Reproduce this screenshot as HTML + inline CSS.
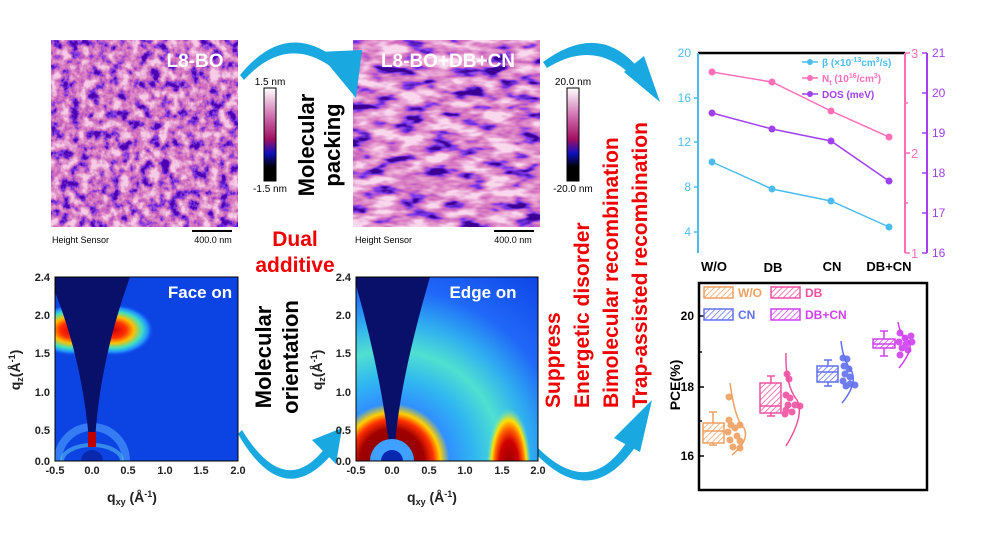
<!DOCTYPE html>
<html><head><meta charset="utf-8"><style>
html,body{margin:0;padding:0;background:#fff;}
svg{display:block;font-family:"Liberation Sans",Arial,sans-serif;}
</style></head><body>
<svg width="1008" height="542" viewBox="0 0 1008 542" xmlns="http://www.w3.org/2000/svg">
<defs>
<filter id="afm1" x="0" y="0" width="100%" height="100%">
<feTurbulence type="fractalNoise" baseFrequency="0.1" numOctaves="4" seed="3"/>
<feColorMatrix type="matrix" values="2.2 0 0 0 -0.6  2.2 0 0 0 -0.6  2.2 0 0 0 -0.6  0 0 0 0 1"/>
<feComponentTransfer>
<feFuncR type="table" tableValues="0.08 0.2 0.58 0.7 0.8 0.92"/>
<feFuncG type="table" tableValues="0 0.04 0.12 0.22 0.38 0.6"/>
<feFuncB type="table" tableValues="0.45 0.78 0.5 0.55 0.66 0.8"/>
</feComponentTransfer>
</filter>
<filter id="afm2" x="0" y="0" width="100%" height="100%">
<feTurbulence type="fractalNoise" baseFrequency="0.035 0.09" numOctaves="3" seed="7"/>
<feColorMatrix type="matrix" values="2.4 0 0 0 -0.65  2.4 0 0 0 -0.65  2.4 0 0 0 -0.65  0 0 0 0 1"/>
<feComponentTransfer>
<feFuncR type="table" tableValues="0.05 0.2 0.62 0.74 0.84 0.95"/>
<feFuncG type="table" tableValues="0 0.04 0.14 0.26 0.42 0.68"/>
<feFuncB type="table" tableValues="0.3 0.85 0.52 0.58 0.7 0.85"/>
</feComponentTransfer>
</filter>
<linearGradient id="cbar" x1="0" y1="1" x2="0" y2="0">
<stop offset="0" stop-color="#000"/><stop offset="0.15" stop-color="#000"/>
<stop offset="0.3" stop-color="#1010c0"/><stop offset="0.45" stop-color="#a01060"/>
<stop offset="0.7" stop-color="#d070b0"/><stop offset="1" stop-color="#fff"/>
</linearGradient>
<radialGradient id="lobe" cx="0.5" cy="0.5" r="0.5">
<stop offset="0" stop-color="#d00000"/><stop offset="0.3" stop-color="#ff3000"/>
<stop offset="0.5" stop-color="#ffc000"/><stop offset="0.7" stop-color="#40e0c0"/>
<stop offset="0.85" stop-color="#2090ff"/><stop offset="1" stop-color="#1040e8" stop-opacity="0"/>
</radialGradient>
<radialGradient id="ring" cx="392" cy="461" r="230" gradientUnits="userSpaceOnUse">
<stop offset="0" stop-color="#800000"/><stop offset="0.14" stop-color="#a00000"/>
<stop offset="0.18" stop-color="#ff3000"/><stop offset="0.21" stop-color="#ffd000"/>
<stop offset="0.25" stop-color="#3090ff"/><stop offset="0.36" stop-color="#30b8f0"/>
<stop offset="0.48" stop-color="#50e0d0"/><stop offset="0.6" stop-color="#30b0f0"/>
<stop offset="0.75" stop-color="#2068f8"/><stop offset="1" stop-color="#1048e8"/>
</radialGradient>
<radialGradient id="lobe2" cx="0.5" cy="0.6" r="0.5">
<stop offset="0" stop-color="#900000"/><stop offset="0.45" stop-color="#d00000"/>
<stop offset="0.65" stop-color="#ff6000"/><stop offset="0.8" stop-color="#ffe000"/>
<stop offset="1" stop-color="#80f0a0" stop-opacity="0"/>
</radialGradient>
<pattern id="h1" width="4" height="4" patternUnits="userSpaceOnUse" patternTransform="rotate(45)"><rect width="4" height="4" fill="#fff"/><line x1="0" y1="0" x2="0" y2="4" stroke="#f0a060" stroke-width="1.5"/></pattern>
<pattern id="h2" width="4" height="4" patternUnits="userSpaceOnUse" patternTransform="rotate(45)"><rect width="4" height="4" fill="#fff"/><line x1="0" y1="0" x2="0" y2="4" stroke="#f050a0" stroke-width="1.5"/></pattern>
<pattern id="h3" width="4" height="4" patternUnits="userSpaceOnUse" patternTransform="rotate(45)"><rect width="4" height="4" fill="#fff"/><line x1="0" y1="0" x2="0" y2="4" stroke="#6070f0" stroke-width="1.5"/></pattern>
<pattern id="h4" width="4" height="4" patternUnits="userSpaceOnUse" patternTransform="rotate(45)"><rect width="4" height="4" fill="#fff"/><line x1="0" y1="0" x2="0" y2="4" stroke="#d040f0" stroke-width="1.5"/></pattern>
<clipPath id="g1c"><rect x="55" y="277" width="183" height="184"/></clipPath>
<clipPath id="g2c"><rect x="356" y="277" width="182" height="184"/></clipPath>
</defs>

<rect x="51" y="40" width="187" height="187" filter="url(#afm1)"/>
<text x="195" y="67" fill="#fff" font-size="19" font-weight="bold" text-anchor="middle">L8-BO</text>
<text x="52" y="243" font-size="9">Height Sensor</text>
<line x1="192" y1="231" x2="232" y2="231" stroke="#000" stroke-width="2"/>
<text x="213" y="243" font-size="9" text-anchor="middle">400.0 nm</text>

<rect x="353" y="40" width="187" height="187" filter="url(#afm2)"/>
<text x="448" y="67" fill="#fff" font-size="19" font-weight="bold" text-anchor="middle">L8-BO+DB+CN</text>
<text x="355" y="243" font-size="9">Height Sensor</text>
<line x1="494" y1="231" x2="534" y2="231" stroke="#000" stroke-width="2"/>
<text x="513" y="243" font-size="9" text-anchor="middle">400.0 nm</text>

<rect x="264" y="88" width="12" height="93" fill="url(#cbar)" stroke="#000" stroke-width="1"/>
<text x="270" y="85" font-size="10" text-anchor="middle">1.5 nm</text>
<text x="270" y="192" font-size="10" text-anchor="middle">-1.5 nm</text>
<rect x="567" y="88" width="12" height="93" fill="url(#cbar)" stroke="#000" stroke-width="1"/>
<text x="573" y="85" font-size="10" text-anchor="middle">20.0 nm</text>
<text x="573" y="192" font-size="10" text-anchor="middle">-20.0 nm</text>

<g font-weight="bold" font-size="22">
<text transform="translate(314,145) rotate(-90)" text-anchor="middle">Molecular</text>
<text transform="translate(340,145) rotate(-90)" text-anchor="middle">packing</text>
<text transform="translate(271,357) rotate(-90)" text-anchor="middle">Molecular</text>
<text transform="translate(298,357) rotate(-90)" text-anchor="middle">orientation</text>
</g>
<g font-weight="bold" font-size="21" fill="#f00000">
<text x="295" y="246" text-anchor="middle">Dual</text>
<text x="295" y="272" text-anchor="middle">additive</text>
<text transform="translate(560,408) rotate(-90)">Suppress</text>
<text transform="translate(589,408) rotate(-90)">Energetic disorder</text>
<text transform="translate(618,408) rotate(-90)">Bimolecular recombination</text>
<text transform="translate(647,408) rotate(-90)">Trap-assisted  recombination</text>
</g>

<g fill="#1aa8e0">
<path d="M240,75 Q285,20 335,58 L330,66 Q285,35 244,80 Z"/>
<polygon points="318,52 362,50 356,98"/>
<path d="M543,62 Q600,20 640,70 L633,77 Q595,38 547,68 Z"/>
<polygon points="624,72 644,56 660,102"/>
<path d="M242,430 Q285,500 325,448 L332,454 Q283,512 238,434 Z"/>
<polygon points="312,440 342,428 336,464"/>
<path d="M538,448 Q590,500 628,440 L636,446 Q590,512 534,452 Z"/>
<polygon points="614,438 652,400 640,452"/>
</g>

<g clip-path="url(#g1c)">
<rect x="55" y="277" width="183" height="184" fill="#0c44e4"/>
<ellipse cx="92" cy="461" rx="34" ry="34" fill="none" stroke="#50a0ff" stroke-width="8" opacity="0.6"/>
<ellipse cx="92" cy="461" rx="30" ry="16" fill="none" stroke="#60d0f0" stroke-width="4" opacity="0.5"/>
<ellipse cx="72" cy="330" rx="40" ry="26" fill="url(#lobe)"/>
<ellipse cx="114" cy="330" rx="40" ry="26" fill="url(#lobe)"/>
<path d="M50,277 L130,277 Q100,360 95,440 L89,440 Q82,360 55,292 Z" fill="#08106a"/>
<rect x="88" y="432" width="8" height="15" fill="#c00000"/>
<circle cx="92" cy="461" r="11" fill="#0828b0"/>
</g>
<rect x="55" y="277" width="183" height="184" fill="none" stroke="#000" stroke-width="1"/>
<text x="200" y="298" fill="#fff" font-size="17" font-weight="bold" text-anchor="middle">Face on</text>

<g clip-path="url(#g2c)">
<rect x="356" y="277" width="182" height="184" fill="url(#ring)"/>
<ellipse cx="509" cy="455" rx="22" ry="58" fill="url(#lobe2)"/>
<path d="M350,277 L430,277 Q400,380 395,445 L389,445 Q380,370 356,285 Z" fill="#08106a"/>
<circle cx="392" cy="461" r="22" fill="#40a0ff"/>
<circle cx="392" cy="461" r="11" fill="#0828b0"/>
</g>
<rect x="356" y="277" width="182" height="184" fill="none" stroke="#000" stroke-width="1"/>
<text x="483" y="298" fill="#fff" font-size="17" font-weight="bold" text-anchor="middle">Edge on</text>

<g font-size="11" font-weight="bold" fill="#222">
<g text-anchor="end">
<text x="50" y="281">2.4</text><text x="50" y="319">2.0</text><text x="50" y="357">1.5</text><text x="50" y="396">1.0</text><text x="50" y="434">0.5</text><text x="50" y="465">0.0</text>
<text x="351" y="281">2.4</text><text x="351" y="319">2.0</text><text x="351" y="357">1.5</text><text x="351" y="396">1.0</text><text x="351" y="434">0.5</text><text x="351" y="465">0.0</text>
</g>
<g text-anchor="middle">
<text x="55" y="474">-0.5</text><text x="92" y="474">0.0</text><text x="128" y="474">0.5</text><text x="165" y="474">1.0</text><text x="201" y="474">1.5</text><text x="238" y="474">2.0</text>
<text x="356" y="474">-0.5</text><text x="392" y="474">0.0</text><text x="429" y="474">0.5</text><text x="465" y="474">1.0</text><text x="502" y="474">1.5</text><text x="538" y="474">2.0</text>
</g>
</g>
<g font-size="14" font-weight="bold" fill="#222">
<text x="132" y="502" text-anchor="middle">q<tspan font-size="9" dy="3">xy</tspan><tspan dy="-3"> (Å</tspan><tspan font-size="9" dy="-5">-1</tspan><tspan dy="5">)</tspan></text>
<text x="432" y="502" text-anchor="middle">q<tspan font-size="9" dy="3">xy</tspan><tspan dy="-3"> (Å</tspan><tspan font-size="9" dy="-5">-1</tspan><tspan dy="5">)</tspan></text>
<text transform="translate(20,370) rotate(-90)" text-anchor="middle">q<tspan font-size="9" dy="3">z</tspan><tspan dy="-3">(Å</tspan><tspan font-size="9" dy="-5">-1</tspan><tspan dy="5">)</tspan></text>
<text transform="translate(322,370) rotate(-90)" text-anchor="middle">q<tspan font-size="9" dy="3">z</tspan><tspan dy="-3">(Å</tspan><tspan font-size="9" dy="-5">-1</tspan><tspan dy="5">)</tspan></text>
</g>

<line x1="698" y1="53" x2="905" y2="53" stroke="#000" stroke-width="2.5"/>
<line x1="698" y1="53" x2="698" y2="253" stroke="#4cbcf0" stroke-width="2"/>
<line x1="905" y1="53" x2="905" y2="253" stroke="#ff6eb8" stroke-width="2"/>
<line x1="927" y1="53" x2="927" y2="253" stroke="#a040f0" stroke-width="2"/>
<g stroke="#4cbcf0" stroke-width="1.5"><line x1="698" y1="98" x2="694" y2="98"/><line x1="698" y1="142" x2="694" y2="142"/><line x1="698" y1="187" x2="694" y2="187"/><line x1="698" y1="232" x2="694" y2="232"/></g>
<g stroke="#ff6eb8" stroke-width="1.5"><line x1="905" y1="53" x2="910" y2="53"/><line x1="905" y1="153" x2="910" y2="153"/><line x1="905" y1="253" x2="910" y2="253"/><line x1="905" y1="103" x2="908" y2="103"/><line x1="905" y1="203" x2="908" y2="203"/></g>
<g stroke="#a040f0" stroke-width="1.5"><line x1="927" y1="53" x2="922" y2="53"/><line x1="927" y1="93" x2="922" y2="93"/><line x1="927" y1="133" x2="922" y2="133"/><line x1="927" y1="173" x2="922" y2="173"/><line x1="927" y1="213" x2="922" y2="213"/><line x1="927" y1="253" x2="922" y2="253"/></g>
<g font-size="12" fill="#4cbcf0" text-anchor="end"><text x="691" y="57">20</text><text x="691" y="102">16</text><text x="691" y="146">12</text><text x="691" y="191">8</text><text x="691" y="236">4</text></g>
<g font-size="13" fill="#ff6eb8"><text x="911" y="58">3</text><text x="911" y="158">2</text><text x="911" y="258">1</text></g>
<g font-size="12" fill="#a040f0"><text x="932" y="57">21</text><text x="932" y="97">20</text><text x="932" y="137">19</text><text x="932" y="177">18</text><text x="932" y="217">17</text><text x="932" y="257">16</text></g>
<g font-size="13" font-weight="bold" text-anchor="middle"><text x="714" y="271">W/O</text><text x="773" y="272">DB</text><text x="832" y="271">CN</text><text x="889" y="271">DB+CN</text></g>
<polyline points="712,162 772,189 831,201 889,227" fill="none" stroke="#4cbcf0" stroke-width="1.5"/>
<polyline points="712,72 772,82 831,111 889,137" fill="none" stroke="#ff6eb8" stroke-width="1.5"/>
<polyline points="712,113 772,129 831,141 889,181" fill="none" stroke="#a040f0" stroke-width="1.5"/>
<g fill="#4cbcf0"><circle cx="712" cy="162" r="3.5"/><circle cx="772" cy="189" r="3.5"/><circle cx="831" cy="201" r="3.5"/><circle cx="889" cy="227" r="3.5"/></g>
<g fill="#ff6eb8"><circle cx="712" cy="72" r="3.5"/><circle cx="772" cy="82" r="3.5"/><circle cx="831" cy="111" r="3.5"/><circle cx="889" cy="137" r="3.5"/></g>
<g fill="#a040f0"><circle cx="712" cy="113" r="3.5"/><circle cx="772" cy="129" r="3.5"/><circle cx="831" cy="141" r="3.5"/><circle cx="889" cy="181" r="3.5"/></g>
<g font-size="10" font-weight="bold">
<line x1="802" y1="62" x2="818" y2="62" stroke="#4cbcf0" stroke-width="1.5"/><circle cx="810" cy="62" r="3" fill="#4cbcf0"/>
<text x="822" y="66" fill="#4cbcf0">β (×10<tspan font-size="7" dy="-4">-13</tspan><tspan dy="4">cm</tspan><tspan font-size="7" dy="-4">3</tspan><tspan dy="4">/s)</tspan></text>
<line x1="802" y1="78" x2="818" y2="78" stroke="#ff6eb8" stroke-width="1.5"/><circle cx="810" cy="78" r="3" fill="#ff6eb8"/>
<text x="822" y="82" fill="#ff6eb8">N<tspan font-size="7" dy="3">t</tspan><tspan dy="-3"> (10</tspan><tspan font-size="7" dy="-4">16</tspan><tspan dy="4">/cm</tspan><tspan font-size="7" dy="-4">3</tspan><tspan dy="4">)</tspan></text>
<line x1="802" y1="94" x2="818" y2="94" stroke="#a040f0" stroke-width="1.5"/><circle cx="810" cy="94" r="3" fill="#a040f0"/>
<text x="822" y="98" fill="#a040f0">DOS (meV)</text>
</g>

<rect x="699" y="283" width="228" height="207" fill="#fff" stroke="#000" stroke-width="2.5"/>
<g stroke="#000" stroke-width="1.5"><line x1="699" y1="316" x2="704" y2="316"/><line x1="699" y1="387" x2="704" y2="387"/><line x1="699" y1="456" x2="704" y2="456"/><line x1="699" y1="352" x2="702" y2="352"/><line x1="699" y1="421" x2="702" y2="421"/></g>
<g font-size="12" font-weight="bold" text-anchor="end"><text x="694" y="320">20</text><text x="694" y="391">18</text><text x="694" y="460">16</text></g>
<text transform="translate(680,385) rotate(-90)" font-size="14" font-weight="bold" text-anchor="middle">PCE(%)</text>
<g font-size="12" font-weight="bold">
<rect x="704" y="287" width="29" height="11" fill="url(#h1)" stroke="#f0a060" stroke-width="1.5"/><text x="738" y="297" fill="#f0a060">W/O</text>
<rect x="771" y="287" width="29" height="11" fill="url(#h2)" stroke="#f050a0" stroke-width="1.5"/><text x="805" y="297" fill="#f050a0">DB</text>
<rect x="704" y="309" width="29" height="11" fill="url(#h3)" stroke="#6070f0" stroke-width="1.5"/><text x="738" y="319" fill="#6070f0">CN</text>
<rect x="771" y="309" width="29" height="11" fill="url(#h4)" stroke="#d040f0" stroke-width="1.5"/><text x="805" y="319" fill="#d040f0">DB+CN</text>
</g>
<g stroke="#f0a060" stroke-width="1.5" fill="none">
<line x1="713" y1="412" x2="713" y2="445"/><line x1="709" y1="412" x2="717" y2="412"/><line x1="709" y1="445" x2="717" y2="445"/>
<rect x="703" y="423" width="21" height="20" fill="url(#h1)"/><line x1="703" y1="431" x2="724" y2="431"/>
<path d="M730,383 Q735,420 744,428 Q750,440 732,455"/>
</g>
<g fill="#f0a060" opacity="0.9"><circle cx="729" cy="397" r="3.5"/><circle cx="729" cy="420" r="3.5"/><circle cx="735" cy="428" r="3.5"/><circle cx="740" cy="425" r="3.5"/><circle cx="728" cy="432" r="3.5"/><circle cx="737" cy="436" r="3.5"/><circle cx="730" cy="440" r="3.5"/><circle cx="740" cy="441" r="3.5"/><circle cx="733" cy="447" r="3.5"/><circle cx="740" cy="448" r="3.5"/><circle cx="731" cy="425" r="3.5"/></g>
<g stroke="#f050a0" stroke-width="1.5" fill="none">
<line x1="771" y1="376" x2="771" y2="416"/><line x1="767" y1="376" x2="775" y2="376"/><line x1="767" y1="416" x2="775" y2="416"/>
<rect x="760" y="383" width="21" height="30" fill="url(#h2)"/><line x1="760" y1="406" x2="781" y2="406"/>
<path d="M786,353 Q785,385 797,400 Q805,415 786,446"/>
</g>
<g fill="#f050a0" opacity="0.9"><circle cx="787" cy="374" r="3.5"/><circle cx="789" cy="379" r="3.5"/><circle cx="786" cy="395" r="3.5"/><circle cx="790" cy="398" r="3.5"/><circle cx="788" cy="405" r="3.5"/><circle cx="795" cy="405" r="3.5"/><circle cx="800" cy="406" r="3.5"/><circle cx="786" cy="410" r="3.5"/><circle cx="792" cy="412" r="3.5"/><circle cx="785" cy="414" r="3.5"/></g>
<g stroke="#6070f0" stroke-width="1.5" fill="none">
<line x1="828" y1="360" x2="828" y2="386"/><line x1="824" y1="360" x2="832" y2="360"/><line x1="824" y1="386" x2="832" y2="386"/>
<rect x="817" y="366" width="21" height="16" fill="url(#h3)"/><line x1="817" y1="372" x2="838" y2="372"/>
<path d="M841,341 Q843,360 852,372 Q857,385 842,403"/>
</g>
<g fill="#6070f0" opacity="0.9"><circle cx="843" cy="358" r="3.5"/><circle cx="847" cy="359" r="3.5"/><circle cx="844" cy="366" r="3.5"/><circle cx="849" cy="369" r="3.5"/><circle cx="845" cy="374" r="3.5"/><circle cx="850" cy="377" r="3.5"/><circle cx="843" cy="381" r="3.5"/><circle cx="850" cy="384" r="3.5"/><circle cx="855" cy="385" r="3.5"/><circle cx="846" cy="386" r="3.5"/></g>
<g stroke="#d040f0" stroke-width="1.5" fill="none">
<line x1="884" y1="331" x2="884" y2="356"/><line x1="880" y1="331" x2="888" y2="331"/><line x1="880" y1="356" x2="888" y2="356"/>
<rect x="873" y="339" width="22" height="9" fill="url(#h4)"/><line x1="873" y1="344" x2="895" y2="344"/>
<path d="M898,322 Q900,335 908,340 Q915,348 899,368"/>
</g>
<g fill="#d040f0" opacity="0.9"><circle cx="900" cy="333" r="3.5"/><circle cx="905" cy="338" r="3.5"/><circle cx="911" cy="336" r="3.5"/><circle cx="899" cy="342" r="3.5"/><circle cx="906" cy="344" r="3.5"/><circle cx="912" cy="342" r="3.5"/><circle cx="902" cy="348" r="3.5"/><circle cx="900" cy="355" r="3.5"/><circle cx="908" cy="350" r="3.5"/></g>
</svg>
</body></html>
